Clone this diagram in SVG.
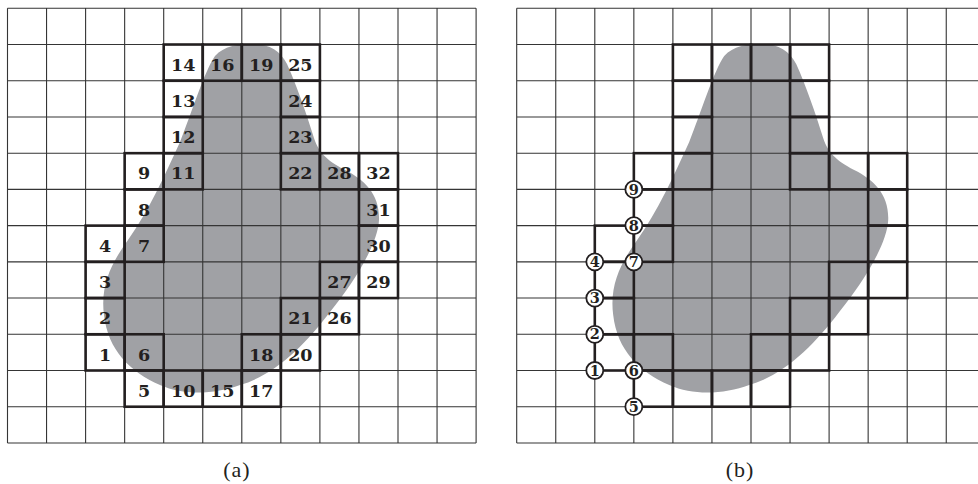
<svg xmlns="http://www.w3.org/2000/svg" xmlns:xlink="http://www.w3.org/1999/xlink" width="978" height="484" viewBox="0 0 978 484">
<style>
.bg{fill:#ffffff}
.blob{fill:#a0a1a5;stroke:none}
.grid{fill:none;stroke:#353535;stroke-width:1.1}
.thick{fill:none;stroke:#231f20;stroke-width:2.6}
.lab{font-family:"DejaVu Serif",serif;font-weight:bold;font-size:17.5px;text-anchor:middle;fill:#231f20}
.vc{fill:#ffffff;stroke:#231f20;stroke-width:1.8}
.vt{font-family:"DejaVu Serif",serif;font-weight:bold;font-size:14.5px;text-anchor:middle;fill:#231f20}
.cap{font-family:"Liberation Serif",serif;font-size:22px;letter-spacing:1px;text-anchor:middle;fill:#231f20}
</style>
<defs>
<path id="blobShape" d="M242.5,35.7 C260.5,34.7 272.5,41.7 279.5,55.7 C288.5,75.7 298.5,103.7 305.5,126.7 C310.5,143.7 318.5,151.7 337.5,161.7 C357.5,171.7 372.5,186.7 371.5,211.7 C370.5,236.7 344.5,276.7 322.5,303.7 C297.5,336.7 267.5,366.7 232.5,376.7 C207.5,385.7 177.5,387.7 152.5,376.7 C122.5,363.7 100.5,341.7 96.5,306.7 C92.5,276.7 104.5,253.7 120.5,231.7 C140.5,203.7 157.5,166.7 172.5,133.7 C184.5,103.7 197.5,61.7 207.5,47.7 C216.5,37.7 230.5,35.7 242.5,35.7 Z"/>
<path id="gridLines" d="M0,0V434.64M39.05,0V434.64M78.1,0V434.64M117.15,0V434.64M156.2,0V434.64M195.25,0V434.64M234.3,0V434.64M273.35,0V434.64M312.4,0V434.64M351.45,0V434.64M390.5,0V434.64M429.55,0V434.64M468.6,0V434.64M0,0H468.6M0,36.22H468.6M0,72.44H468.6M0,108.66H468.6M0,144.88H468.6M0,181.1H468.6M0,217.32H468.6M0,253.54H468.6M0,289.76H468.6M0,325.98H468.6M0,362.2H468.6M0,398.42H468.6M0,434.64H468.6"/>
<g id="thickCells">
<rect x="156.2" y="36.22" width="39.05" height="36.22"/>
<rect x="195.25" y="36.22" width="39.05" height="36.22"/>
<rect x="234.3" y="36.22" width="39.05" height="36.22"/>
<rect x="273.35" y="36.22" width="39.05" height="36.22"/>
<rect x="156.2" y="72.44" width="39.05" height="36.22"/>
<rect x="273.35" y="72.44" width="39.05" height="36.22"/>
<rect x="156.2" y="108.66" width="39.05" height="36.22"/>
<rect x="273.35" y="108.66" width="39.05" height="36.22"/>
<rect x="117.15" y="144.88" width="39.05" height="36.22"/>
<rect x="156.2" y="144.88" width="39.05" height="36.22"/>
<rect x="273.35" y="144.88" width="39.05" height="36.22"/>
<rect x="312.4" y="144.88" width="39.05" height="36.22"/>
<rect x="351.45" y="144.88" width="39.05" height="36.22"/>
<rect x="117.15" y="181.1" width="39.05" height="36.22"/>
<rect x="351.45" y="181.1" width="39.05" height="36.22"/>
<rect x="78.1" y="217.32" width="39.05" height="36.22"/>
<rect x="117.15" y="217.32" width="39.05" height="36.22"/>
<rect x="351.45" y="217.32" width="39.05" height="36.22"/>
<rect x="78.1" y="253.54" width="39.05" height="36.22"/>
<rect x="312.4" y="253.54" width="39.05" height="36.22"/>
<rect x="351.45" y="253.54" width="39.05" height="36.22"/>
<rect x="78.1" y="289.76" width="39.05" height="36.22"/>
<rect x="273.35" y="289.76" width="39.05" height="36.22"/>
<rect x="312.4" y="289.76" width="39.05" height="36.22"/>
<rect x="78.1" y="325.98" width="39.05" height="36.22"/>
<rect x="117.15" y="325.98" width="39.05" height="36.22"/>
<rect x="234.3" y="325.98" width="39.05" height="36.22"/>
<rect x="273.35" y="325.98" width="39.05" height="36.22"/>
<rect x="117.15" y="362.2" width="39.05" height="36.22"/>
<rect x="156.2" y="362.2" width="39.05" height="36.22"/>
<rect x="195.25" y="362.2" width="39.05" height="36.22"/>
<rect x="234.3" y="362.2" width="39.05" height="36.22"/>
</g>
</defs>
<rect class="bg" x="0" y="0" width="978" height="484"/>

<g id="panel-a" transform="translate(7.5,8.3)">
<use href="#blobShape" class="blob"/>
<use href="#gridLines" class="grid"/>
<use href="#thickCells" class="thick"/>
<g id="labels-a" class="lab">
<text x="175.7" y="62.52">14</text>
<text x="214.75" y="62.52">16</text>
<text x="253.8" y="62.52">19</text>
<text x="292.85" y="62.52">25</text>
<text x="175.7" y="98.74">13</text>
<text x="292.85" y="98.74">24</text>
<text x="175.7" y="134.96">12</text>
<text x="292.85" y="134.96">23</text>
<text x="136.65" y="171.18">9</text>
<text x="175.7" y="171.18">11</text>
<text x="292.85" y="171.18">22</text>
<text x="331.9" y="171.18">28</text>
<text x="370.95" y="171.18">32</text>
<text x="136.65" y="207.4">8</text>
<text x="370.95" y="207.4">31</text>
<text x="97.6" y="243.62">4</text>
<text x="136.65" y="243.62">7</text>
<text x="370.95" y="243.62">30</text>
<text x="97.6" y="279.84">3</text>
<text x="331.9" y="279.84">27</text>
<text x="370.95" y="279.84">29</text>
<text x="97.6" y="316.06">2</text>
<text x="292.85" y="316.06">21</text>
<text x="331.9" y="316.06">26</text>
<text x="97.6" y="352.28">1</text>
<text x="136.65" y="352.28">6</text>
<text x="253.8" y="352.28">18</text>
<text x="292.85" y="352.28">20</text>
<text x="136.65" y="388.5">5</text>
<text x="175.7" y="388.5">10</text>
<text x="214.75" y="388.5">15</text>
<text x="253.8" y="388.5">17</text>
</g>
</g>

<g id="panel-b" transform="translate(516.7,8.3)">
<use href="#blobShape" class="blob"/>
<use href="#gridLines" class="grid"/>
<use href="#thickCells" class="thick"/>
<g id="vertex-1"><circle class="vc" cx="78.1" cy="362.2" r="8.5"/><text class="vt" x="78.1" y="367.4">1</text></g>
<g id="vertex-2"><circle class="vc" cx="78.1" cy="325.98" r="8.5"/><text class="vt" x="78.1" y="331.18">2</text></g>
<g id="vertex-3"><circle class="vc" cx="78.1" cy="289.76" r="8.5"/><text class="vt" x="78.1" y="294.96">3</text></g>
<g id="vertex-4"><circle class="vc" cx="78.1" cy="253.54" r="8.5"/><text class="vt" x="78.1" y="258.74">4</text></g>
<g id="vertex-5"><circle class="vc" cx="117.15" cy="398.42" r="8.5"/><text class="vt" x="117.15" y="403.62">5</text></g>
<g id="vertex-6"><circle class="vc" cx="117.15" cy="362.2" r="8.5"/><text class="vt" x="117.15" y="367.4">6</text></g>
<g id="vertex-7"><circle class="vc" cx="117.15" cy="253.54" r="8.5"/><text class="vt" x="117.15" y="258.74">7</text></g>
<g id="vertex-8"><circle class="vc" cx="117.15" cy="217.32" r="8.5"/><text class="vt" x="117.15" y="222.52">8</text></g>
<g id="vertex-9"><circle class="vc" cx="117.15" cy="181.1" r="8.5"/><text class="vt" x="117.15" y="186.3">9</text></g>
</g>

<g id="captions" class="cap">
<text x="237" y="477">(a)</text>
<text x="740" y="477">(b)</text>
</g>
</svg>
